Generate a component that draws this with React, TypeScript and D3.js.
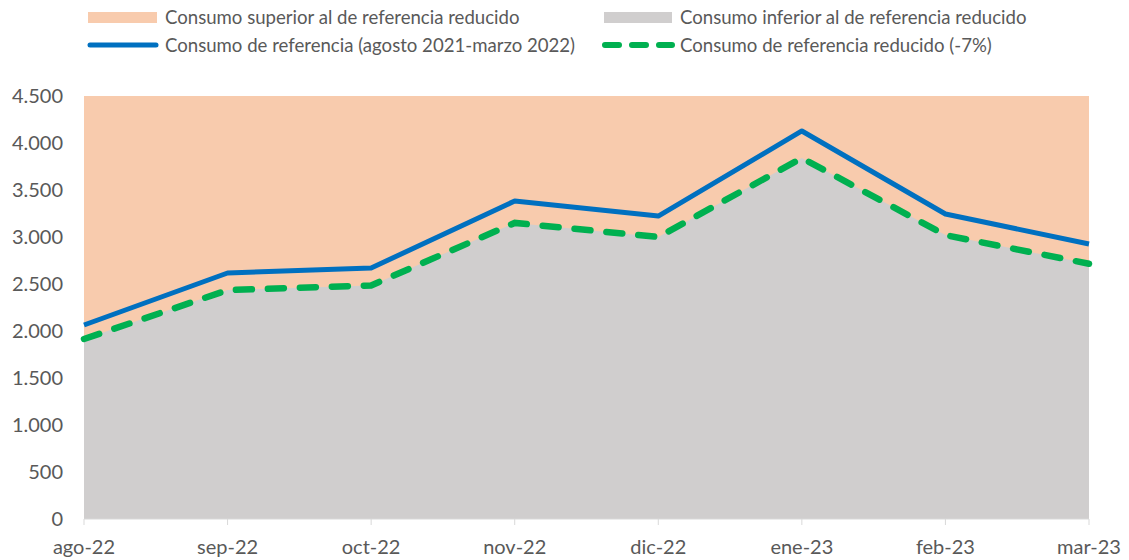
import * as d3 from "d3";

// data
const MONTHS = ["ago-22", "sep-22", "oct-22", "nov-22", "dic-22", "ene-23", "feb-23", "mar-23"];
const REFERENCE = [2064, 2617, 2670, 3383, 3223, 4128, 3245, 2925];
const REDUCED = [1915, 2435, 2485, 3150, 3000, 3840, 3020, 2715];
const Y_TICKS = [0, 500, 1000, 1500, 2000, 2500, 3000, 3500, 4000, 4500];

const W = 1129;
const H = 560;
const m = { top: 96, right: 40, bottom: 41, left: 84 };
const FONT = "Lato, 'Open Sans', sans-serif";
const TEXT = "#595959";

const fmt = (v: number) => d3.format(",")(v).replace(/,/g, ".");

export default function App() {
  const x = d3.scalePoint<string>().domain(MONTHS).range([m.left, W - m.right]);
  const y = d3.scaleLinear().domain([0, 4500]).range([H - m.bottom, m.top]);

  const line = d3
    .line<number>()
    .x((_, i) => x(MONTHS[i])!)
    .y((d) => y(d));
  const area = d3
    .area<number>()
    .x((_, i) => x(MONTHS[i])!)
    .y0(y(0))
    .y1((d) => y(d));

  const x0 = m.left;
  const x1 = W - m.right;

  return (
    <svg
      width={W}
      height={H}
      style={{ position: "absolute", left: 0, top: 0, fontFamily: FONT }}
    >
      {/* upper band */}
      <rect x={x0} y={y(4500)} width={x1 - x0} height={y(0) - y(4500)} fill="#F8CBAD" />
      {/* lower band */}
      <path d={area(REDUCED)!} fill="#D0CECE" />

      {/* axis */}
      <line x1={x0} x2={x1} y1={y(0)} y2={y(0)} stroke="#D9D9D9" strokeWidth={1} />
      {MONTHS.map((mo) => (
        <line key={mo} x1={x(mo)} x2={x(mo)} y1={y(0)} y2={y(0) + 6} stroke="#D9D9D9" />
      ))}
      {MONTHS.map((mo) => (
        <text
          key={mo}
          x={x(mo)}
          y={y(0) + 35}
          textAnchor="middle"
          fontSize={20}
          fill={TEXT}
        >
          {mo}
        </text>
      ))}
      {Y_TICKS.map((t) => (
        <text
          key={t}
          x={63}
          y={y(t)}
          dy="0.35em"
          textAnchor="end"
          fontSize={20}
          fill={TEXT}
        >
          {fmt(t)}
        </text>
      ))}

      {/* lines */}
      <path d={line(REFERENCE)!} fill="none" stroke="#0070C0" strokeWidth={5} strokeLinejoin="round" />
      <path
        d={line(REDUCED)!}
        fill="none"
        stroke="#00B050"
        strokeWidth={6.5}
        strokeDasharray="16 16"
        strokeLinecap="round"
      />

      {/* legend */}
      <g fontSize={18.6} fill={TEXT}>
        <rect x={88} y={12} width={69} height={11} fill="#F8CBAD" />
        <text x={165} y={17} dy="0.35em">Consumo superior al de referencia reducido</text>
        <rect x={604} y={12} width={68} height={11} fill="#D0CECE" />
        <text x={680} y={17} dy="0.35em">Consumo inferior al de referencia reducido</text>
        <line x1={90} x2={156} y1={45} y2={45} stroke="#0070C0" strokeWidth={5} strokeLinecap="round" />
        <text x={165} y={45} dy="0.35em">Consumo de referencia (agosto 2021-marzo 2022)</text>
        <line
          x1={605}
          x2={672}
          y1={45}
          y2={45}
          stroke="#00B050"
          strokeWidth={6}
          strokeDasharray="14 13"
          strokeLinecap="round"
        />
        <text x={680} y={45} dy="0.35em">Consumo de referencia reducido (-7%)</text>
      </g>
    </svg>
  );
}
